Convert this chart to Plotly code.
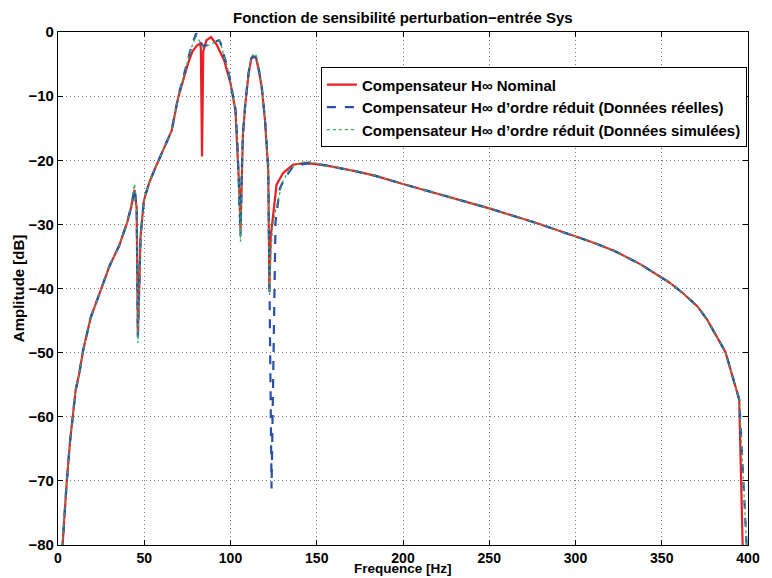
import plotly.graph_objects as go

# ---------------- data ----------------
freq_nom = [2.4, 4.2, 5.1, 7.0, 8.5, 10.2, 12.3, 14.6, 19.0, 25.0, 30.0, 35.5, 40.2, 42.5,
            44.4, 45.6, 46.3, 47.9, 49.7, 50.7, 53.0, 56.4, 60.0, 65.9, 69.7, 75.4, 78.0,
            80.5, 82.3, 82.8, 83.5, 84.2, 86.0, 88.7, 92.0, 96.3, 100.0, 101.5, 102.9, 103.9,
            105.0, 105.8, 106.5, 107.2, 108.6, 110.5, 112.0, 113.4, 114.8, 116.3, 118.1,
            120.0, 121.9, 122.5, 123.3, 124.4, 126.7, 130.5, 136.2, 143.8, 150.0, 155.2,
            172.3, 183.6, 200.0, 225.0, 250.0, 278.6, 297.6, 309.0, 322.3, 337.5, 354.6,
            362.2, 370.7, 376.4, 386.9, 394.9, 396.9, 397.1]
amp_nom = [-81.0, -73.3, -70.0, -63.8, -60.0, -55.9, -53.3, -49.6, -44.5, -39.9, -36.4, -33.3, -29.6, -27.2,
           -24.6, -27.5, -47.4, -31.7, -26.5, -25.4, -23.4, -21.2, -19.0, -15.4, -10.2, -4.9, -3.0,
           -2.1, -1.8, -2.5, -19.4, -3.0, -1.3, -0.8, -2.0, -4.4, -8.0, -10.0, -12.3, -18.0,
           -24.0, -31.0, -22.0, -16.0, -11.2, -6.5, -4.2, -3.9, -4.0, -5.8, -8.6,
           -13.8, -21.7, -40.2, -32.0, -29.1, -23.8, -22.0, -20.7, -20.4, -20.6, -20.8,
           -21.7, -22.4, -23.7, -25.6, -27.5, -29.9, -31.6, -32.7, -34.1, -36.2, -39.1,
           -40.7, -42.8, -44.9, -49.9, -57.3, -80.0, -82.0]

freq_reel = [2.4, 4.2, 5.1, 7.0, 8.5, 10.2, 12.3, 14.6, 19.0, 25.0, 30.0, 35.5, 40.2, 42.5,
             44.4, 45.6, 46.3, 47.9, 49.7, 50.7, 53.0, 56.4, 60.0, 65.9, 69.7, 75.4, 77.3,
             80.1, 81.5, 84.0, 87.0, 90.0, 93.4, 94.4, 96.0, 98.2, 100.0, 101.5, 102.9, 104.0,
             105.0, 105.8, 106.5, 107.2, 108.6, 110.5, 112.0, 113.4, 114.8, 116.3, 118.1,
             120.0, 121.9, 122.4, 122.9, 123.4, 123.8, 124.4, 125.0, 125.6, 126.1, 128.6,
             131.4, 136.2, 143.8, 150.0, 155.2, 172.3, 183.6, 200.0, 225.0, 250.0, 278.6,
             297.6, 309.0, 322.3, 337.5, 354.6, 362.2, 370.7, 376.4, 386.9, 394.9, 399.2, 399.5]
amp_reel = [-81.0, -73.3, -70.0, -63.8, -60.0, -55.9, -53.3, -49.6, -44.5, -39.9, -36.4, -33.3, -29.6, -27.1,
            -24.3, -27.5, -47.6, -31.7, -26.5, -25.4, -23.4, -21.2, -19.0, -15.4, -10.0, -4.3, -2.3,
            -0.2, -1.0, -2.2, -2.0, -1.6, -1.3, -1.8, -3.5, -5.4, -7.8, -9.8, -12.0, -17.0,
            -24.0, -31.8, -22.0, -16.0, -11.0, -6.3, -4.1, -3.8, -3.9, -5.6, -8.5,
            -13.6, -21.0, -35.0, -50.0, -62.0, -71.2, -60.0, -48.0, -36.0, -29.6, -24.4,
            -22.8, -21.0, -20.5, -20.6, -20.8, -21.7, -22.4, -23.7, -25.6, -27.5, -29.9,
            -31.6, -32.7, -34.1, -36.2, -39.1, -40.7, -42.8, -44.9, -49.9, -57.3, -80.0, -82.0]

freq_sim = [2.4, 4.2, 5.1, 7.0, 8.5, 10.2, 12.3, 14.6, 19.0, 25.0, 30.0, 35.5, 40.2, 42.5,
            44.4, 45.6, 46.3, 47.9, 49.7, 50.7, 53.0, 56.4, 60.0, 65.9, 69.7, 75.4, 77.3,
            80.1, 81.5, 84.0, 87.0, 90.0, 93.4, 94.4, 96.0, 98.2, 100.0, 101.5, 102.9, 104.0,
            105.0, 105.8, 106.5, 107.2, 108.6, 110.5, 112.0, 113.4, 114.8, 116.3, 118.1,
            120.0, 121.9, 122.6, 123.5, 124.5, 126.0, 128.0, 130.0, 134.0, 140.0, 145.0,
            150.0, 155.2, 172.3, 183.6, 200.0, 225.0, 250.0, 278.6, 297.6, 309.0, 322.3,
            337.5, 354.6, 362.2, 370.7, 376.4, 386.9, 394.9, 399.2, 399.5]
amp_sim = [-81.0, -73.3, -70.0, -63.8, -60.0, -55.9, -53.3, -49.6, -44.5, -39.9, -36.4, -33.3, -29.6, -26.8,
           -23.7, -27.5, -48.5, -31.7, -26.5, -25.4, -23.4, -21.2, -19.0, -15.4, -10.0, -4.4, -2.5,
           -0.5, -1.2, -2.3, -2.1, -1.7, -1.4, -1.9, -3.6, -5.5, -7.9, -9.9, -12.1, -17.0,
           -24.0, -32.7, -22.0, -16.0, -11.0, -6.2, -3.9, -3.4, -3.6, -5.4, -8.4,
           -13.5, -21.5, -41.0, -34.0, -30.0, -28.0, -25.5, -23.5, -21.5, -20.4, -20.2,
           -20.5, -20.8, -21.7, -22.4, -23.7, -25.6, -27.5, -29.9, -31.6, -32.7, -34.1,
           -36.2, -39.1, -40.7, -42.8, -44.9, -49.9, -57.3, -80.0, -82.0]

names = ["Compensateur H\u221e Nominal",
         "Compensateur H\u221e d\u2019ordre réduit (Données réelles)",
         "Compensateur H\u221e d\u2019ordre réduit (Données simulées)"]

x_ticks = [0, 50, 100, 150, 200, 250, 300, 350, 400]
y_ticks = [0, -10, -20, -30, -40, -50, -60, -70, -80]

FONT = "Liberation Sans, Arial, Helvetica, sans-serif"

fig = go.Figure()
fig.add_trace(go.Scatter(x=freq_nom, y=amp_nom, mode="lines", name=names[0],
                         line=dict(color="rgb(235,30,35)", width=2.2)))
fig.add_trace(go.Scatter(x=freq_reel, y=amp_reel, mode="lines", name=names[1],
                         line=dict(color="rgb(40,80,170)", width=2.2, dash="dash")))
fig.add_trace(go.Scatter(x=freq_sim, y=amp_sim, mode="lines", name=names[2],
                         line=dict(color="rgb(60,170,100)", width=1.3, dash="dot")))

axis_common = dict(
    showline=True, linecolor="black", linewidth=1.2, mirror="ticks",
    ticks="inside", ticklen=5, tickcolor="black",
    showgrid=True, gridcolor="rgb(120,120,120)", griddash="1px,3px", gridwidth=1,
    zeroline=False,
)

fig.update_xaxes(range=[0, 400], tickvals=x_ticks,
                 tickfont=dict(family=FONT, size=14, color="black", weight="bold"), **axis_common)
fig.update_yaxes(range=[-80, 0], tickvals=y_ticks,
                 tickfont=dict(family=FONT, size=15, color="black", weight="bold"), **axis_common)

# The page body has an 8px margin, so the figure is shifted by 8px; size it to fit.
fig.update_layout(
    width=764, height=570,
    margin=dict(l=50, r=12, t=24, b=32),
    paper_bgcolor="white", plot_bgcolor="white",
    font=dict(family=FONT, color="black"),
    legend=dict(x=0.381, y=0.931, xanchor="left", yanchor="top",
                bgcolor="white", bordercolor="black", borderwidth=1,
                font=dict(family=FONT, size=15, color="black", weight="bold"),
                tracegroupgap=0),
    showlegend=True,
)

fig.add_annotation(text="Fonction de sensibilité perturbation\u2212entrée Sys",
                   xref="paper", yref="paper", x=0.5, y=1 + 24 / 506,
                   showarrow=False, xanchor="center", yanchor="top", borderpad=0,
                   font=dict(family=FONT, size=15, color="black", weight="bold"))
fig.add_annotation(text="Frequence [Hz]", xref="paper", yref="paper", x=0.5, y=-32 / 506,
                   showarrow=False, xanchor="center", yanchor="bottom", borderpad=0,
                   font=dict(family=FONT, size=13.5, color="black", weight="bold"))
fig.add_annotation(text="Amplitude [dB]", xref="paper", yref="paper", x=(18 - 58) / 702, y=0.5,
                   showarrow=False, xanchor="center", yanchor="middle", textangle=-90,
                   font=dict(family=FONT, size=15, color="black", weight="bold"))

fig.write_html("out.html")
